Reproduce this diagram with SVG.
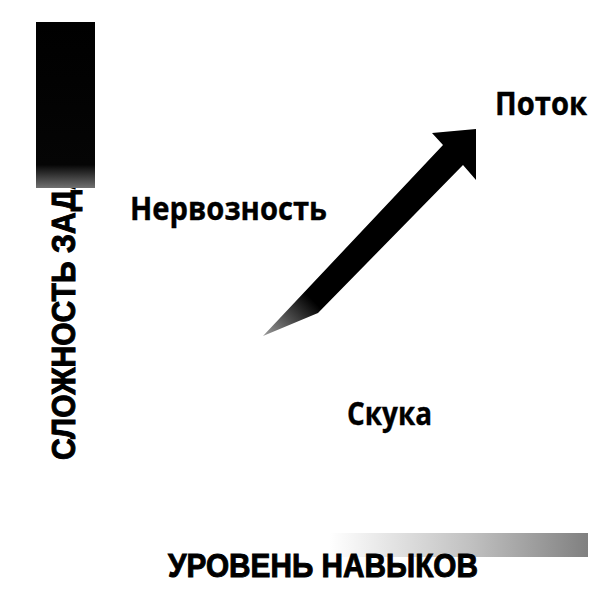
<svg xmlns="http://www.w3.org/2000/svg" width="611" height="615" viewBox="0 0 611 615">
  <style>
    .axis { font-family: "Liberation Sans", Arial, sans-serif; font-weight: 700; font-size: 34px; fill: #000; stroke: #000; stroke-width: 1; }
    .lbl { font-family: "Open Sans", "Noto Sans", sans-serif; font-weight: 700; font-size: 32px; fill: #000; stroke: #000; stroke-width: 0.4; }
  </style>
  <defs>
    <linearGradient id="gBarV" x1="0" y1="0" x2="0" y2="1">
      <stop offset="0" stop-color="#000"/>
      <stop offset="0.86" stop-color="#050505"/>
      <stop offset="1" stop-color="#707070"/>
    </linearGradient>
    <linearGradient id="gBarH" x1="330" y1="0" x2="588" y2="0" gradientUnits="userSpaceOnUse">
      <stop offset="0" stop-color="#fff"/>
      <stop offset="0.55" stop-color="#c0c0c0"/>
      <stop offset="1" stop-color="#808080"/>
    </linearGradient>
    <linearGradient id="gArrow" x1="262" y1="334" x2="305" y2="292" gradientUnits="userSpaceOnUse">
      <stop offset="0" stop-color="#9a9a9a"/>
      <stop offset="1" stop-color="#000"/>
    </linearGradient>
  </defs>
  <rect width="611" height="615" fill="#fff"/>

  <g id="axis-y">
    <text class="axis" transform="translate(75,460) rotate(-90)" textLength="292" lengthAdjust="spacingAndGlyphs">СЛОЖНОСТЬ ЗАДА</text>
    <rect x="36" y="22" width="59" height="166" fill="url(#gBarV)"/>
  </g>

  <g id="axis-x">
    <rect x="330" y="533" width="258" height="24" fill="url(#gBarH)"/>
    <text class="axis" x="168" y="577" textLength="310" lengthAdjust="spacingAndGlyphs">УРОВЕНЬ НАВЫКОВ</text>
  </g>

  <g id="connectors">
    <polygon points="263,336 443,145 432,133 476,129 476,180 463,165 318,313" fill="url(#gArrow)"/>
  </g>

  <g id="node-flow">
    <text class="lbl" x="495" y="115" textLength="92" lengthAdjust="spacingAndGlyphs">Поток</text>
  </g>
  <g id="node-anxiety">
    <text class="lbl" x="130" y="220" textLength="197" lengthAdjust="spacingAndGlyphs">Нервозность</text>
  </g>
  <g id="node-boredom">
    <text class="lbl" x="347" y="425" textLength="85" lengthAdjust="spacingAndGlyphs">Скука</text>
  </g>
</svg>
